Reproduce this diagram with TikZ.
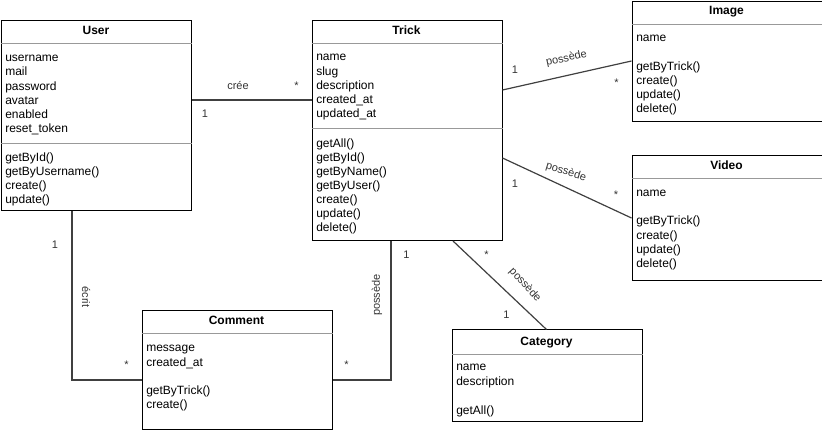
\documentclass[tikz,border=0pt]{standalone}
\usepackage{fontspec}
\setmainfont{Liberation Sans}
\begin{document}
\begin{tikzpicture}[x=0.75pt,y=-0.75pt,
    classbox/.style={draw=black, line width=0.75pt, fill=white, anchor=north west, inner sep=0pt, minimum width=142.5pt},
    classname/.style={anchor=base, inner sep=0pt, font=\fontsize{9}{11}\selectfont\bfseries},
    member/.style={anchor=base west, inner sep=0pt, font=\fontsize{9}{11}\selectfont},
    divider/.style={draw=black!40, line width=0.75pt},
    assoc/.style={draw=black!75, line width=0.9pt},
    lbl/.style={inner sep=0pt, text=black!80, font=\fontsize{8.25}{10}\selectfont}]

    \useasboundingbox (0,0) rectangle (822,431);

    % Classes
    % User
    \node[classbox, minimum height=142.5pt] (user) at (1,20) {};
    \node[classname] (user-name) at (96,35) {User};
    \draw[divider] (user.west |- 0,44) -- (user.east |- 0,44);
    \draw[divider] (user.west |- 0,144) -- (user.east |- 0,144);
    \foreach \t [count=\i from 0] in {username,mail,password,avatar,enabled,reset\_token}
        \node[member] (user-a\i) at (5,61.5+14.3*\i) {\t};
    \foreach \t [count=\i from 0] in {getById(),getByUsername(),create(),update()}
        \node[member] (user-m\i) at (5,161.5+14*\i) {\t};

    % Trick
    \node[classbox, minimum height=165pt] (trick) at (311.5,20) {};
    \node[classname] (trick-name) at (406.5,35) {Trick};
    \draw[divider] (trick.west |- 0,44) -- (trick.east |- 0,44);
    \draw[divider] (trick.west |- 0,129) -- (trick.east |- 0,129);
    \foreach \t [count=\i from 0] in {name,slug,description,created\_at,updated\_at}
        \node[member] (trick-a\i) at (316,61+14.2*\i) {\t};
    \foreach \t [count=\i from 0] in {getAll(),getById(),getByName(),getByUser(),create(),update(),delete()}
        \node[member] (trick-m\i) at (316,147.5+14*\i) {\t};

    % Image
    \node[classbox, minimum height=90pt] (image) at (631.5,1) {};
    \node[classname] (image-name) at (726.5,15) {Image};
    \draw[divider] (image.west |- 0,24.5) -- (image.east |- 0,24.5);
    \node[member] (image-a0) at (636,41.7) {name};
    \foreach \t [count=\i from 0] in {getByTrick(),create(),update(),delete()}
        \node[member] (image-m\i) at (636,70.3+14.2*\i) {\t};

    % Video
    \node[classbox, minimum height=93.75pt] (video) at (631.5,155) {};
    \node[classname] (video-name) at (726.5,170) {Video};
    \draw[divider] (video.west |- 0,179) -- (video.east |- 0,179);
    \node[member] (video-a0) at (636,196.5) {name};
    \foreach \t [count=\i from 0] in {getByTrick(),create(),update(),delete()}
        \node[member] (video-m\i) at (636,225+14.2*\i) {\t};

    % Comment
    \node[classbox, minimum height=88.5pt] (comment) at (141.5,310.5) {};
    \node[classname] (comment-name) at (236.5,325) {Comment};
    \draw[divider] (comment.west |- 0,334) -- (comment.east |- 0,334);
    \foreach \t [count=\i from 0] in {message,created\_at}
        \node[member] (comment-a\i) at (146,351.7+14.3*\i) {\t};
    \foreach \t [count=\i from 0] in {getByTrick(),create()}
        \node[member] (comment-m\i) at (146,394.5+14.2*\i) {\t};

    % Category
    \node[classbox, minimum height=68.25pt] (category) at (451.5,329.5) {};
    \node[classname] (category-name) at (546.5,345) {Category};
    \draw[divider] (category.west |- 0,354) -- (category.east |- 0,354);
    \foreach \t [count=\i from 0] in {name,description}
        \node[member] (category-a\i) at (456,370.5+14.5*\i) {\t};
    \node[member] (category-m0) at (456,414) {getAll()};

    % Associations
    \draw[assoc] (user.east |- 0,100) -- (trick.west |- 0,100);
    \draw[assoc] (trick.east |- 0,90) -- (image.west |- 0,61);
    \draw[assoc] (trick.east |- 0,158) -- (video.west |- 0,218);
    \draw[assoc] (trick.south -| 453,0) -- (category.north -| 546.5,0);
    \draw[assoc] (user.south -| 72,0) |- (comment.west |- 0,380);
    \draw[assoc] (trick.south -| 391,0) |- (comment.east |- 0,380);

    % Labels
    % User - Trick
    \node[lbl] (cree) at (238,85.5) {crée};
    \node[lbl] (cree-1) at (205,114) {1};
    \node[lbl] (cree-n) at (296.5,85.7) {*};
    % Trick - Image
    \node[lbl, rotate=12.5] (img-lbl) at (566.5,58.5) {possède};
    \node[lbl] (img-1) at (515,70) {1};
    \node[lbl] (img-n) at (616.5,82.4) {*};
    % Trick - Video
    \node[lbl, rotate=-17] (vid-lbl) at (566,172) {possède};
    \node[lbl] (vid-1) at (515,183.5) {1};
    \node[lbl] (vid-n) at (616,195) {*};
    % Trick - Category
    \node[lbl, rotate=-48] (cat-lbl) at (525,285) {possède};
    \node[lbl] (cat-n) at (486.5,255) {*};
    \node[lbl] (cat-1) at (506.5,315) {1};
    % User - Comment
    \node[lbl, rotate=-90] (ecrit) at (86,297) {écrit};
    \node[lbl] (ecrit-1) at (55,245) {1};
    \node[lbl] (ecrit-n) at (126.5,365) {*};
    % Trick - Comment
    \node[lbl, rotate=90] (com-lbl) at (377,295) {possède};
    \node[lbl] (com-1) at (406.5,255) {1};
    \node[lbl] (com-n) at (346.5,365) {*};
\end{tikzpicture}
\end{document}
